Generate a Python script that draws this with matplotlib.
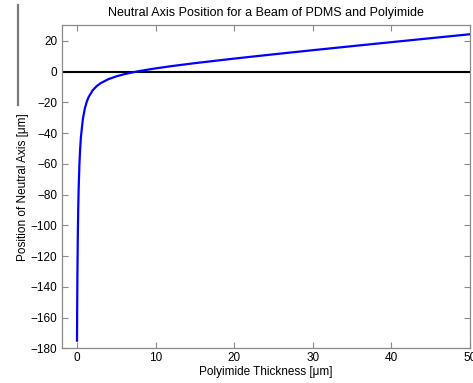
import matplotlib
matplotlib.use("Agg")
import matplotlib.pyplot as plt
from matplotlib.lines import Line2D

# Polyimide thickness [um] and resulting neutral axis position [um]
thickness = [0, 0.02, 0.05, 0.1, 0.15, 0.2, 0.3, 0.4, 0.5, 0.75, 1, 1.25, 1.5,
             2, 2.5, 3, 4, 5, 6, 7, 8, 10, 12, 15, 20, 25, 30, 35, 40, 45, 50]
position = [-175.0, -155.7, -133.5, -107.9, -90.6, -78.0, -61.0, -50.1, -42.4,
            -30.6, -23.8, -19.4, -16.3, -12.1, -9.41, -7.49, -4.85, -3.04,
            -1.65, -0.51, 0.47, 2.15, 3.60, 5.56, 8.52, 11.30, 13.99, 16.62,
            19.22, 21.80, 24.36]

x_ticks = [0, 10, 20, 30, 40, 50]
y_ticks = [-180, -160, -140, -120, -100, -80, -60, -40, -20, 0, 20]

plt.rcParams['font.family'] = ['Liberation Sans', 'DejaVu Sans']

fig = plt.figure(figsize=(4.73, 3.83), dpi=100)
ax = fig.add_axes([0.1304, 0.0906, 0.8633, 0.8434])

ax.axhline(0, color='black', lw=1.5, zorder=2)
ax.plot(thickness, position, color='#0000ff', lw=1.6, zorder=3)

ax.set_xlim(-1.95, 50)
ax.set_ylim(-180, 30.2)
ax.set_xticks(x_ticks)
ax.set_yticks(y_ticks)
ax.tick_params(direction='in', length=4, width=0.8, color='#8a8a8a',
               labelsize=8.5, top=True, right=True, pad=3)
for s in ax.spines.values():
    s.set_color('#8a8a8a')
    s.set_linewidth(0.9)

ax.set_title('Neutral Axis Position for a Beam of PDMS and Polyimide',
             fontsize=9, pad=7)
ax.set_xlabel('Polyimide Thickness [\u03bcm]', fontsize=8.5, labelpad=1)
ax.set_ylabel('Position of Neutral Axis [\u03bcm]', fontsize=8.5, labelpad=1)

# thin grey rule at the upper left edge of the figure
fig.add_artist(Line2D([17.5 / 473, 17.5 / 473], [1 - 5 / 383, 1 - 105 / 383],
                      transform=fig.transFigure, color='#7a7a7a', lw=1.6))

fig.savefig('out.png', dpi=100)
